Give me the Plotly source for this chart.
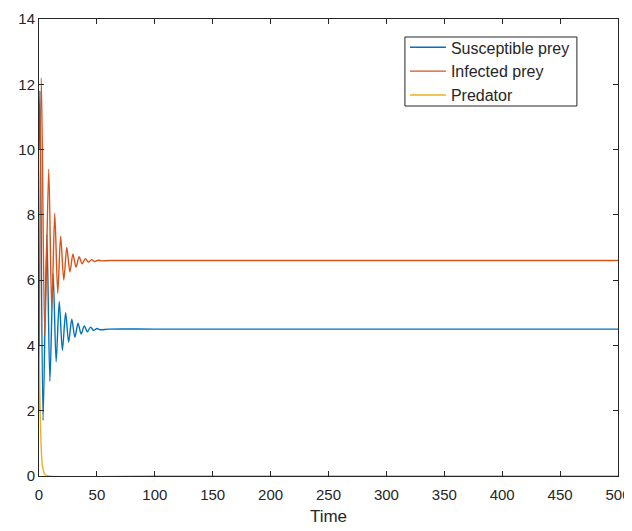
import plotly.graph_objects as go

# Data (transient peaks/troughs, then steady state)
t_sus = [0, 0.8, 3.5, 6.8, 9.4, 12.2, 14.8, 17.5, 20.2, 23.0, 25.6, 28.3, 31.0, 33.7, 36.4,
         39.1, 41.8, 44.5, 47.2, 50.0, 53.0, 60, 100, 200, 300, 400, 500]
v_sus = [10.0, 11.8, 1.7, 7.4, 2.9, 6.2, 3.5, 5.35, 3.85, 5.0, 4.1, 4.8, 4.25, 4.68, 4.35,
         4.6, 4.42, 4.56, 4.46, 4.52, 4.48, 4.5, 4.5, 4.5, 4.5, 4.5, 4.5]

t_inf = [0, 2.0, 5.0, 8.4, 11.0, 13.6, 16.2, 18.7, 21.4, 24.0, 26.7, 29.3, 32.0, 34.6, 37.3,
         40.0, 42.7, 45.4, 48.0, 51.0, 54.0, 60, 100, 200, 300, 400, 500]
v_inf = [2.0, 12.2, 4.3, 9.4, 5.1, 8.05, 5.6, 7.35, 6.0, 7.0, 6.25, 6.8, 6.4, 6.72, 6.5,
         6.66, 6.55, 6.63, 6.57, 6.61, 6.59, 6.6, 6.6, 6.6, 6.6, 6.6, 6.6]

t_pred = [0, 1, 2, 3, 5, 8, 100, 500]
v_pred = [4.0, 2.0, 0.8, 0.3, 0.05, 0.0, 0.0, 0.0]

names = ["Susceptible prey", "Infected prey", "Predator"]
colors = ["#0072BD", "#D95319", "#EDB120"]

fig = go.Figure()
for t, v, n, c in zip([t_sus, t_inf, t_pred], [v_sus, v_inf, v_pred], names, colors):
    fig.add_trace(go.Scatter(x=t, y=v, mode="lines", name=n,
                             line=dict(color=c, width=1.4, shape="spline", smoothing=0.8)))

axis_common = dict(showgrid=False, zeroline=False, showline=True, linecolor="#262626",
                   linewidth=1, mirror="ticks", ticks="inside", ticklen=5,
                   tickcolor="#262626", tickfont=dict(size=15, color="#262626"),
                   automargin=False)

# The page body adds an 8px offset, so the figure is sized 8px smaller
fig.update_layout(
    width=624, height=523,
    margin=dict(l=31, r=14, t=11, b=55),
    paper_bgcolor="white", plot_bgcolor="white",
    font=dict(family="Liberation Sans, Arial, sans-serif", color="#262626"),
    xaxis=dict(range=[0, 500], dtick=50, tick0=0, ticklabelstandoff=5,
               title=dict(text="Time", font=dict(size=17), standoff=8), **axis_common),
    yaxis=dict(range=[0, 14], dtick=2, tick0=0, **axis_common),
    legend=dict(x=0.632, y=0.975, xanchor="left", yanchor="top",
                borderwidth=0, bgcolor="rgba(0,0,0,0)", itemwidth=36,
                font=dict(size=16, color="#262626"), tracegroupgap=0),
    showlegend=True,
    shapes=[dict(type="rect", xref="paper", yref="paper",
                 x0=0.632, x1=0.929, y0=0.8096, y1=0.9606,
                 line=dict(color="#262626", width=1), fillcolor="white", layer="above")],
)

fig.write_html("out.html")
